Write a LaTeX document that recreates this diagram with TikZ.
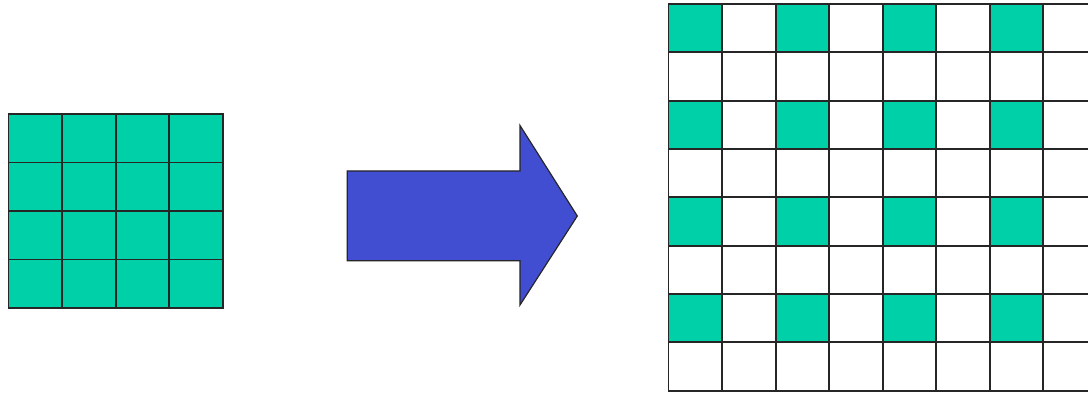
\documentclass[tikz,border=0pt]{standalone}
\begin{document}
\begin{tikzpicture}[x=1pt,y=-1pt,
  gridline/.style={draw=black!85,line width=1.8pt,line cap=rect},
  tealcell/.style={fill=tealc},
  bigarrow/.style={fill=arrowblue,draw=black!85,line width=1.2pt,line join=miter}]
\definecolor{tealc}{RGB}{0,208,168}
\definecolor{arrowblue}{RGB}{66,78,210}
\useasboundingbox[fill=white] (0,0) rectangle (1088,393);
% left grid
\def\lx{8.5}\def\ly{114}\def\lw{53.6}\def\lh{48.5}
\path[tealcell] (\lx,\ly) rectangle ++({4*\lw},{4*\lh});
\foreach \i in {0,...,4}{
  \path[gridline] ({\lx+\i*\lw},\ly) -- ++(0,{4*\lh});
  \path[gridline] (\lx,{\ly+\i*\lh}) -- ++({4*\lw},0);
}
% arrow
\path[bigarrow] (347.3,171) -- (520,171) -- (520,125.5) -- (577.3,216) -- (520,305) -- (520,260.7) -- (347.3,260.7) -- cycle;
% right grid
\begin{scope}
\clip (0,0) rectangle (1088,393);
\def\rx{668.5}\def\ry{4}\def\rw{53.55}\def\rh{48.34}
\foreach \i in {0,2,4,6}{
  \foreach \j in {0,2,4,6}{
    \path[tealcell] ({\rx+\i*\rw},{\ry+\j*\rh}) rectangle ++(\rw,\rh);
  }
}
\foreach \i in {0,...,8}{
  \path[gridline] ({\rx+\i*\rw},\ry) -- ++(0,{8*\rh});
  \path[gridline] (\rx,{\ry+\i*\rh}) -- ++({8*\rw},0);
}
\end{scope}
\end{tikzpicture}
\end{document}
